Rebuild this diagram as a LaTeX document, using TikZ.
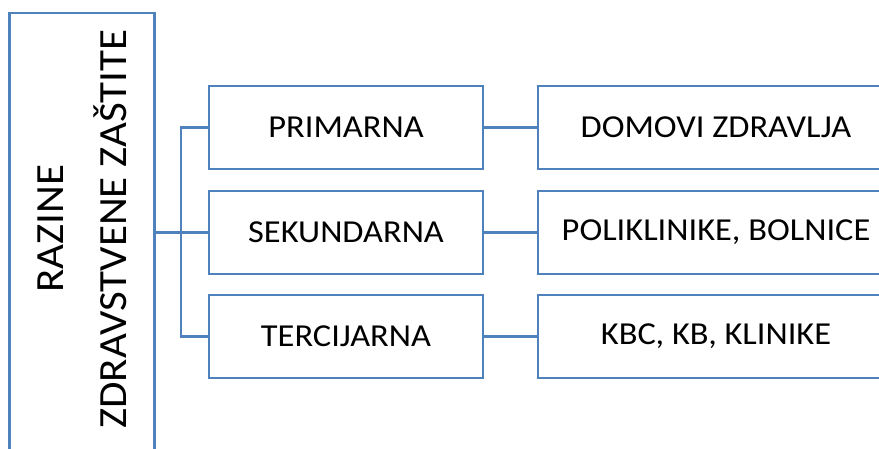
\documentclass[tikz,border=0pt]{standalone}
\usepackage{fontspec}
\setmainfont{Carlito}[FakeStretch=1.075]
\definecolor{boxblue}{RGB}{79,129,189}
\begin{document}
\begin{tikzpicture}[x=0.75pt,y=-0.75pt,
  box/.style={draw=boxblue,line width=2pt,fill=white,inner sep=0pt,font=\fontsize{24}{28}\selectfont},
  midbox/.style={box,minimum width=205.5pt,minimum height=62.25pt},
  rbox/.style={box,minimum width=267pt,minimum height=62.25pt},
  link/.style={draw=boxblue,line width=2pt}]
\useasboundingbox (0,0) rectangle (879,449);
\clip (0,0) rectangle (879,449);
\fill[white] (0,0) rectangle (879,449);
\node[box,minimum width=108.4pt,minimum height=335pt] (lb) at (82,236.5) {};
\node[rotate=90,align=center,inner sep=0pt,font=\fontsize{30}{47}\selectfont] (lt) at (82,229) {RAZINE\\ZDRAVSTVENE ZAŠTITE};
\node[midbox] (m1) at (346,127.5) {PRIMARNA};
\node[midbox] (m2) at (346,232.5) {SEKUNDARNA};
\node[midbox] (m3) at (346,336.5) {TERCIJARNA};
\node[rbox] (r1) at (716,127.5) {DOMOVI ZDRAVLJA};
\node[rbox] (r2) at (716,232.5) {POLIKLINIKE, BOLNICE};
\node[rbox] (r3) at (716,336.5) {KBC, KB, KLINIKE};
\coordinate (j) at (181,232.5);
\draw[link] (m2.west -| lb.east) -- (m2.west);
\draw[link] (m1.west) -| (j) |- (m3.west);
\draw[link] (m1.east) -- (r1.west);
\draw[link] (m2.east) -- (r2.west);
\draw[link] (m3.east) -- (r3.west);
\end{tikzpicture}
\end{document}
